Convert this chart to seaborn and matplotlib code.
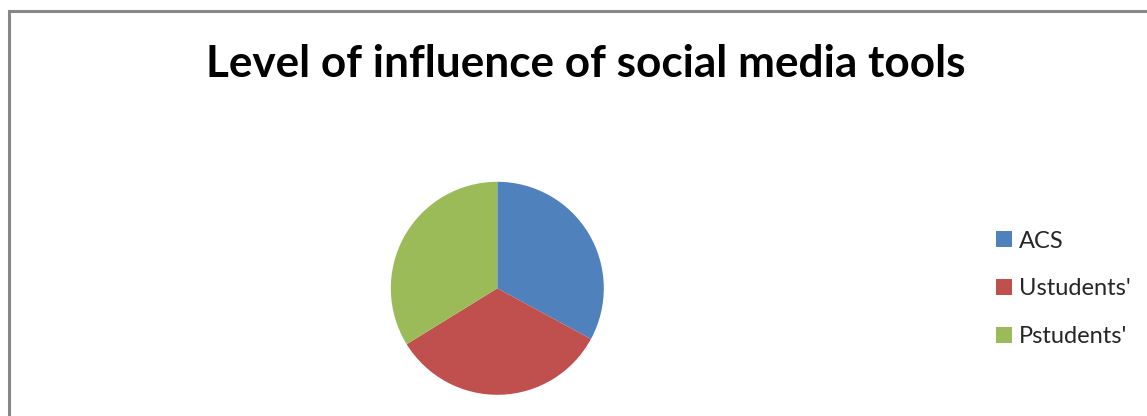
import matplotlib
matplotlib.use("Agg")
import matplotlib.pyplot as plt
from matplotlib.patches import Rectangle, Patch
import seaborn as sns

categories = ["ACS", "Ustudents'", "Pstudents'"]
values = [32.9, 33.3, 33.8]
colors = ["#4F81BD", "#C0504D", "#9BBB59"]
title = "Level of influence of social media tools"

sns.set_theme(style="white")
plt.rcParams['font.family'] = ['Lato', 'DejaVu Sans']

W, H = 1147, 416
fig = plt.figure(figsize=(W / 100, H / 100), dpi=100)
fig.patch.set_facecolor("white")

# outer chart frame (cropped at right and bottom)
fig.patches.append(Rectangle((9 / W, -0.05), 1.1, (H - 11) / H + 0.05,
                             transform=fig.transFigure, fill=False,
                             edgecolor="#878787", linewidth=2.2, zorder=0))

cx, cy, r = 497.3, 288.3, 106.5
ax = fig.add_axes([(cx - r) / W, (H - cy - r) / H, 2 * r / W, 2 * r / H])
ax.pie(values, colors=colors, startangle=90, counterclock=False,
       wedgeprops=dict(linewidth=0))
ax.set_xlim(-1, 1)
ax.set_ylim(-1, 1)
ax.set_aspect("equal")
ax.axis("off")

fig.text(586 / W, 1 - 77 / H, title, ha="center", va="baseline",
         fontsize=31.8, fontweight="bold", color="black")

handles = [Patch(facecolor=c, edgecolor="none") for c in colors]
fig.legend(handles, categories, loc="upper left",
           bbox_to_anchor=(996 / W, 1 - 230.5 / H), frameon=False,
           fontsize=17, handlelength=0.66, handleheight=0.66,
           handletextpad=0.3, labelspacing=1.13, borderaxespad=0,
           borderpad=0)

fig.savefig("out.png", dpi=100)
